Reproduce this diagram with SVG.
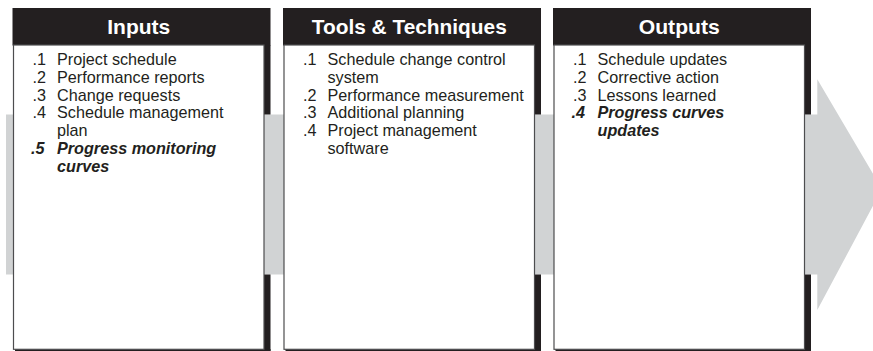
<svg xmlns="http://www.w3.org/2000/svg" width="873" height="351" viewBox="0 0 873 351">
<style>
.blk{fill:#231f20}
.body{fill:#ffffff;stroke:#4d4d4f;stroke-width:1.2}
.hd{font-family:"Liberation Sans",Arial,sans-serif;font-weight:bold;font-size:19.5px;fill:#ffffff;text-anchor:middle}
.it{font-family:"Liberation Sans",Arial,sans-serif;font-size:16.2px;fill:#231f20}
.em{font-weight:bold;font-style:italic}
</style>
<g id="flow-arrow">
<polygon points="6,114.5 817.3,114.5 817.3,79.3 882,189 817.3,310 817.3,274.5 6,274.5" fill="#d1d3d4"/>
</g>
<g id="inputs">
<rect class="blk" x="12.5" y="8" width="258" height="37.5"/>
<rect class="blk" x="264" y="45" width="6.5" height="69.5"/>
<rect class="blk" x="264" y="274.5" width="6.5" height="76.5"/>
<rect class="blk" x="15" y="349" width="255.5" height="2"/>
<rect class="body" x="13.5" y="45" width="250.5" height="304.3"/>
<text class="hd" x="138.75" y="34" textLength="63" lengthAdjust="spacingAndGlyphs">Inputs</text>
<text class="it" x="32.5" y="65">.1</text><text class="it" x="57" y="65">Project schedule</text>
<text class="it" x="32.5" y="82.8">.2</text><text class="it" x="57" y="82.8">Performance reports</text>
<text class="it" x="32.5" y="100.6">.3</text><text class="it" x="57" y="100.6">Change requests</text>
<text class="it" x="32.5" y="118.4">.4</text><text class="it" x="57" y="118.4">Schedule management</text>
<text class="it" x="57" y="136.2">plan</text>
<text class="it em" x="31" y="154">.5</text><text class="it em" x="57" y="154">Progress monitoring</text>
<text class="it em" x="57" y="171.8">curves</text>
</g>
<g id="tools">
<rect class="blk" x="283" y="8" width="258" height="37.5"/>
<rect class="blk" x="534.5" y="45" width="6.5" height="69.5"/>
<rect class="blk" x="534.5" y="274.5" width="6.5" height="76.5"/>
<rect class="blk" x="285.5" y="349" width="255.5" height="2"/>
<rect class="body" x="284" y="45" width="250.5" height="304.3"/>
<text class="hd" x="409.25" y="34" textLength="195" lengthAdjust="spacingAndGlyphs">Tools &amp; Techniques</text>
<text class="it" x="303" y="65">.1</text><text class="it" x="327.5" y="65">Schedule change control</text>
<text class="it" x="327.5" y="82.8">system</text>
<text class="it" x="303" y="100.6">.2</text><text class="it" x="327.5" y="100.6">Performance measurement</text>
<text class="it" x="303" y="118.4">.3</text><text class="it" x="327.5" y="118.4">Additional planning</text>
<text class="it" x="303" y="136.2">.4</text><text class="it" x="327.5" y="136.2">Project management</text>
<text class="it" x="327.5" y="154">software</text>
</g>
<g id="outputs">
<rect class="blk" x="553" y="8" width="258" height="37.5"/>
<rect class="blk" x="804.5" y="45" width="6.5" height="69.5"/>
<rect class="blk" x="804.5" y="274.5" width="6.5" height="76.5"/>
<rect class="blk" x="555.5" y="349" width="255.5" height="2"/>
<rect class="body" x="554" y="45" width="250.5" height="304.3"/>
<text class="hd" x="679.25" y="34" textLength="81" lengthAdjust="spacingAndGlyphs">Outputs</text>
<text class="it" x="573" y="65">.1</text><text class="it" x="597.5" y="65">Schedule updates</text>
<text class="it" x="573" y="82.8">.2</text><text class="it" x="597.5" y="82.8">Corrective action</text>
<text class="it" x="573" y="100.6">.3</text><text class="it" x="597.5" y="100.6">Lessons learned</text>
<text class="it em" x="571.5" y="118.4">.4</text><text class="it em" x="597.5" y="118.4">Progress curves</text>
<text class="it em" x="597.5" y="136.2">updates</text>
</g>
</svg>
